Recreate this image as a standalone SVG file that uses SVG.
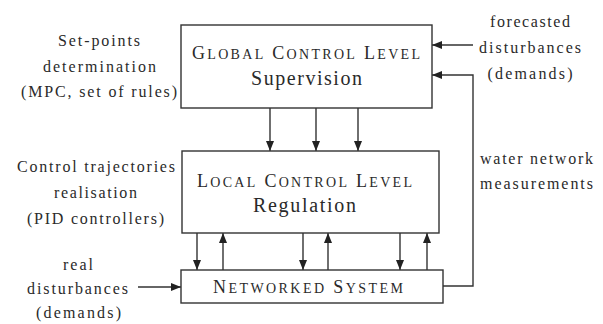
<svg xmlns="http://www.w3.org/2000/svg" width="603" height="324" viewBox="0 0 603 324" font-family="Liberation Serif, Times New Roman, serif">
<defs>
<style>
text{font-family:"Liberation Serif","Times New Roman",serif;fill:#2a2a2a;}
.lbl{font-size:16px;text-anchor:middle;}
.lbll{font-size:16px;}
.sc{font-size:18px;text-anchor:middle;}
.sc tspan.s{font-size:14px;}
.big{font-size:20px;text-anchor:middle;}
.box{fill:#fff;stroke:#333;stroke-width:1.4;}
.ln{fill:none;stroke:#333;stroke-width:1.4;}
</style>
<marker id="ah" viewBox="0 0 10 8" refX="10" refY="4" markerWidth="10" markerHeight="8" markerUnits="userSpaceOnUse" orient="auto">
<path d="M0,0 L10,4 L0,8 Z" fill="#222"/>
</marker>
</defs>
<rect width="603" height="324" fill="#fff"/>

<g id="connectors">
<line class="ln" x1="270" y1="108" x2="270" y2="151" marker-end="url(#ah)"/>
<line class="ln" x1="316" y1="108" x2="316" y2="151" marker-end="url(#ah)"/>
<line class="ln" x1="358" y1="108" x2="358" y2="151" marker-end="url(#ah)"/>
<line class="ln" x1="197" y1="233" x2="197" y2="270" marker-end="url(#ah)"/>
<line class="ln" x1="223" y1="270" x2="223" y2="233" marker-end="url(#ah)"/>
<line class="ln" x1="303" y1="233" x2="303" y2="270" marker-end="url(#ah)"/>
<line class="ln" x1="328" y1="270" x2="328" y2="233" marker-end="url(#ah)"/>
<line class="ln" x1="400" y1="233" x2="400" y2="270" marker-end="url(#ah)"/>
<line class="ln" x1="427" y1="270" x2="427" y2="233" marker-end="url(#ah)"/>
<polyline class="ln" points="443,286 473,286 473,75 432,75" marker-end="url(#ah)"/>
<line class="ln" x1="473" y1="45" x2="432" y2="45" marker-end="url(#ah)"/>
<line class="ln" x1="138" y1="287" x2="181" y2="287" marker-end="url(#ah)"/>
</g>

<g id="global">
<rect class="box" x="181" y="25" width="251" height="83"/>
<text class="sc" x="306" y="59" textLength="228" lengthAdjust="spacing">G<tspan class="s">LOBAL</tspan> C<tspan class="s">ONTROL</tspan> L<tspan class="s">EVEL</tspan></text>
<text class="big" x="306.5" y="85" textLength="111" lengthAdjust="spacing">Supervision</text>
</g>

<g id="local">
<rect class="box" x="182" y="151" width="257" height="82"/>
<text class="sc" x="304.5" y="187" textLength="215" lengthAdjust="spacing">L<tspan class="s">OCAL</tspan> C<tspan class="s">ONTROL</tspan> L<tspan class="s">EVEL</tspan></text>
<text class="big" x="304.5" y="212" textLength="103" lengthAdjust="spacing">Regulation</text>
</g>

<g id="networked">
<rect class="box" x="181" y="270" width="262" height="33"/>
<text class="sc" x="308" y="293" textLength="190" lengthAdjust="spacing">N<tspan class="s">ETWORKED</tspan> S<tspan class="s">YSTEM</tspan></text>
</g>

<g id="label-setpoints">
<text class="lbl" x="99" y="46" textLength="82" lengthAdjust="spacing">Set-points</text>
<text class="lbl" x="99.5" y="72" textLength="113" lengthAdjust="spacing">determination</text>
<text class="lbl" x="99" y="97" textLength="156" lengthAdjust="spacing">(MPC, set of rules)</text>
</g>

<g id="label-forecasted">
<text class="lbl" x="530" y="27" textLength="80" lengthAdjust="spacing">forecasted</text>
<text class="lbl" x="530" y="53" textLength="102" lengthAdjust="spacing">disturbances</text>
<text class="lbl" x="530" y="79" textLength="85" lengthAdjust="spacing">(demands)</text>
</g>

<g id="label-trajectories">
<text class="lbl" x="96" y="172" textLength="158" lengthAdjust="spacing">Control trajectories</text>
<text class="lbl" x="95.5" y="198" textLength="83" lengthAdjust="spacing">realisation</text>
<text class="lbl" x="95.5" y="224" textLength="137" lengthAdjust="spacing">(PID controllers)</text>
</g>

<g id="label-real">
<text class="lbl" x="78" y="270" textLength="30" lengthAdjust="spacing">real</text>
<text class="lbl" x="77.5" y="294" textLength="101" lengthAdjust="spacing">disturbances</text>
<text class="lbl" x="78.5" y="318" textLength="85" lengthAdjust="spacing">(demands)</text>
</g>

<g id="label-measurements">
<text class="lbll" x="480" y="164" textLength="113" lengthAdjust="spacing">water network</text>
<text class="lbll" x="480" y="189" textLength="113" lengthAdjust="spacing">measurements</text>
</g>
</svg>
